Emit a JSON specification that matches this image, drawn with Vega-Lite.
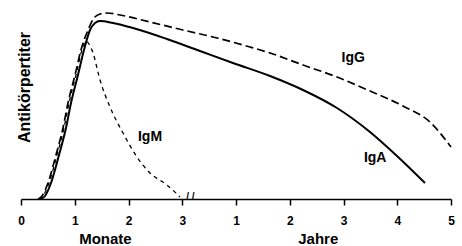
{
  "$schema": "https://vega.github.io/schema/vega-lite/v6.json",
  "width": 430,
  "height": 199,
  "autosize": "none",
  "padding": {"left": 21, "top": 0, "right": 11, "bottom": 47},
  "background": "white",
  "config": {"view": {"stroke": null}, "font": "Liberation Sans"},
  "datasets": {
    "curves": [
      {"s": "IgG", "x": 0.316, "y": 0}, {"s": "IgG", "x": 0.391, "y": 3}, {"s": "IgG", "x": 0.502, "y": 16},
      {"s": "IgG", "x": 0.651, "y": 44}, {"s": "IgG", "x": 0.781, "y": 71}, {"s": "IgG", "x": 0.874, "y": 96},
      {"s": "IgG", "x": 1.005, "y": 124}, {"s": "IgG", "x": 1.116, "y": 149}, {"s": "IgG", "x": 1.247, "y": 169},
      {"s": "IgG", "x": 1.358, "y": 181}, {"s": "IgG", "x": 1.47, "y": 185}, {"s": "IgG", "x": 1.6, "y": 186},
      {"s": "IgG", "x": 1.842, "y": 184}, {"s": "IgG", "x": 2.4, "y": 177}, {"s": "IgG", "x": 3.014, "y": 169},
      {"s": "IgG", "x": 3.647, "y": 161}, {"s": "IgG", "x": 4.26, "y": 152}, {"s": "IgG", "x": 4.633, "y": 146},
      {"s": "IgG", "x": 5.247, "y": 134}, {"s": "IgG", "x": 5.879, "y": 122}, {"s": "IgG", "x": 6.493, "y": 108},
      {"s": "IgG", "x": 7.107, "y": 93}, {"s": "IgG", "x": 7.609, "y": 77}, {"s": "IgG", "x": 8.0, "y": 52},
      {"s": "IgA", "x": 0.372, "y": 0}, {"s": "IgA", "x": 0.447, "y": 3}, {"s": "IgA", "x": 0.558, "y": 16},
      {"s": "IgA", "x": 0.707, "y": 44}, {"s": "IgA", "x": 0.837, "y": 71}, {"s": "IgA", "x": 0.93, "y": 96},
      {"s": "IgA", "x": 1.06, "y": 124}, {"s": "IgA", "x": 1.172, "y": 149}, {"s": "IgA", "x": 1.284, "y": 169},
      {"s": "IgA", "x": 1.377, "y": 176}, {"s": "IgA", "x": 1.47, "y": 178}, {"s": "IgA", "x": 1.712, "y": 176},
      {"s": "IgA", "x": 2.084, "y": 171}, {"s": "IgA", "x": 2.716, "y": 160}, {"s": "IgA", "x": 3.33, "y": 148},
      {"s": "IgA", "x": 3.944, "y": 136}, {"s": "IgA", "x": 4.633, "y": 123}, {"s": "IgA", "x": 5.247, "y": 109},
      {"s": "IgA", "x": 5.879, "y": 91}, {"s": "IgA", "x": 6.493, "y": 67}, {"s": "IgA", "x": 6.995, "y": 43},
      {"s": "IgA", "x": 7.516, "y": 16},
      {"s": "IgM", "x": 0.335, "y": 0}, {"s": "IgM", "x": 0.409, "y": 3}, {"s": "IgM", "x": 0.521, "y": 16},
      {"s": "IgM", "x": 0.67, "y": 44}, {"s": "IgM", "x": 0.8, "y": 71}, {"s": "IgM", "x": 0.893, "y": 96},
      {"s": "IgM", "x": 1.023, "y": 124}, {"s": "IgM", "x": 1.135, "y": 149}, {"s": "IgM", "x": 1.209, "y": 158},
      {"s": "IgM", "x": 1.265, "y": 155}, {"s": "IgM", "x": 1.34, "y": 146}, {"s": "IgM", "x": 1.47, "y": 119},
      {"s": "IgM", "x": 1.656, "y": 92}, {"s": "IgM", "x": 1.898, "y": 66}, {"s": "IgM", "x": 2.158, "y": 42},
      {"s": "IgM", "x": 2.4, "y": 26}, {"s": "IgM", "x": 2.716, "y": 14}, {"s": "IgM", "x": 2.958, "y": 2}
    ],
    "labels": [
      {"t": "IgG", "x": 6.18, "y": 141},
      {"t": "IgA", "x": 6.59, "y": 41},
      {"t": "IgM", "x": 2.4, "y": 62}
    ],
    "titles": [
      {"t": "Monate", "x": 1.57, "y": -45},
      {"t": "Jahre", "x": 5.53, "y": -45}
    ],
    "brk": [
      {"t": "/ /", "x": 3.15, "y": 2}
    ]
  },
  "layer": [
    {
      "data": {"name": "curves"},
      "transform": [{"filter": "datum.s === 'IgG'"}],
      "mark": {"type": "line", "color": "black", "strokeWidth": 1.7, "strokeDash": [8, 4], "interpolate": "monotone", "clip": false},
      "encoding": {
        "x": {
          "field": "x", "type": "quantitative",
          "scale": {"domain": [0, 8], "nice": false, "zero": false},
          "axis": {
            "values": [0, 1, 2, 3, 4, 5, 6, 7, 8],
            "labelExpr": "datum.value <= 3 ? datum.value : datum.value - 3",
            "title": null, "grid": false,
            "domainColor": "black", "domainWidth": 1.5,
            "tickColor": "black", "tickWidth": 1.5, "tickSize": 6,
            "labelFont": "Liberation Sans", "labelFontWeight": "bold", "labelFontSize": 12,
            "labelColor": "black", "labelPadding": 10, "labelFlush": false
          }
        },
        "y": {
          "field": "y", "type": "quantitative",
          "scale": {"domain": [0, 199], "nice": false},
          "axis": {
            "domain": false, "ticks": false, "labels": false, "grid": false,
            "title": "Antikörpertiter",
            "titleFont": "Liberation Sans", "titleFontWeight": "bold", "titleFontSize": 16,
            "titleColor": "black", "titleAngle": -90, "titleAlign": "center",
            "titleBaseline": "alphabetic", "titleX": 8, "titleY": 87
          }
        }
      }
    },
    {
      "data": {"name": "curves"},
      "transform": [{"filter": "datum.s === 'IgA'"}],
      "mark": {"type": "line", "color": "black", "strokeWidth": 2, "interpolate": "monotone", "clip": false},
      "encoding": {
        "x": {"field": "x", "type": "quantitative"},
        "y": {"field": "y", "type": "quantitative"}
      }
    },
    {
      "data": {"name": "curves"},
      "transform": [{"filter": "datum.s === 'IgM'"}],
      "mark": {"type": "line", "color": "black", "strokeWidth": 1.3, "strokeDash": [4, 4], "interpolate": "monotone", "clip": false},
      "encoding": {
        "x": {"field": "x", "type": "quantitative"},
        "y": {"field": "y", "type": "quantitative"}
      }
    },
    {
      "data": {"name": "labels"},
      "mark": {"type": "text", "font": "Liberation Sans", "fontWeight": "bold", "fontSize": 14, "color": "black", "baseline": "middle", "align": "center"},
      "encoding": {
        "x": {"field": "x", "type": "quantitative"},
        "y": {"field": "y", "type": "quantitative"},
        "text": {"field": "t"}
      }
    },
    {
      "data": {"name": "titles"},
      "mark": {"type": "text", "font": "Liberation Sans", "fontWeight": "bold", "fontSize": 15, "color": "black", "baseline": "alphabetic", "align": "center", "clip": false},
      "encoding": {
        "x": {"field": "x", "type": "quantitative"},
        "y": {"field": "y", "type": "quantitative"},
        "text": {"field": "t"}
      }
    },
    {
      "data": {"name": "brk"},
      "mark": {"type": "text", "font": "Liberation Sans", "fontSize": 10, "fontWeight": "bold", "color": "black", "baseline": "middle", "align": "center", "clip": false},
      "encoding": {
        "x": {"field": "x", "type": "quantitative"},
        "y": {"field": "y", "type": "quantitative"},
        "text": {"field": "t"}
      }
    }
  ]
}
